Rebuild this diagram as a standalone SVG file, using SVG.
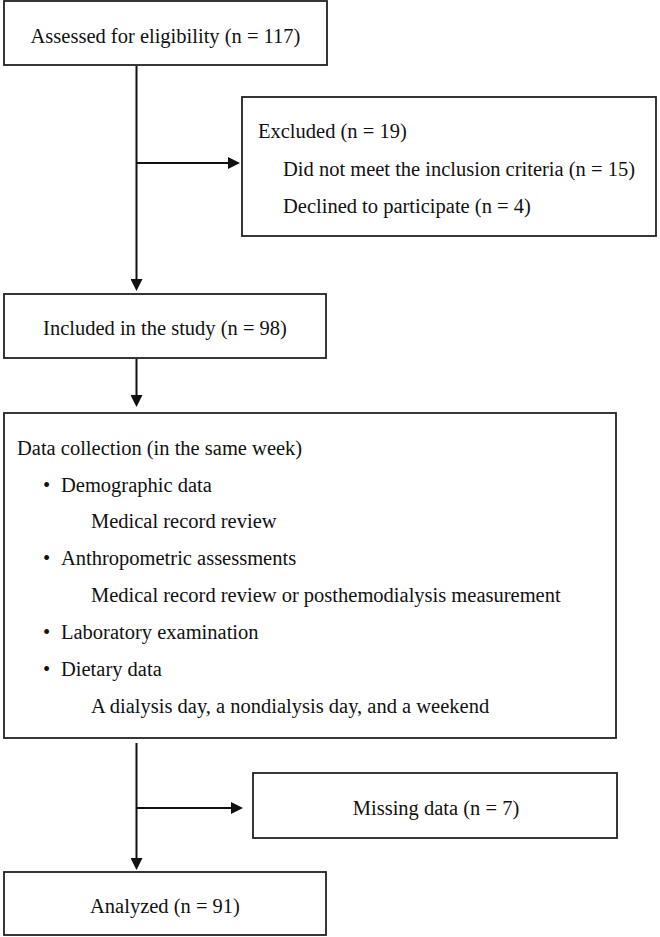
<svg xmlns="http://www.w3.org/2000/svg" width="660" height="937" viewBox="0 0 660 937">
  <style>
    .box { fill: #ffffff; stroke: #222222; stroke-width: 1.8; }
    .t { font-family: "Liberation Serif", "Times New Roman", serif; font-size: 20.5px; fill: #111111; }
    .c { text-anchor: middle; }
    .conn { fill: none; stroke: #111111; stroke-width: 2; }
  </style>
  <defs>
    <marker id="arrow" viewBox="0 0 12 12" refX="0" refY="6" markerWidth="12" markerHeight="12" markerUnits="userSpaceOnUse" orient="auto">
      <path d="M0,0 L12,6 L0,12 Z" fill="#111111"/>
    </marker>
  </defs>
  <rect width="660" height="937" fill="#ffffff"/>

  <g id="connectors">
    <line class="conn" x1="136.5" y1="66" x2="136.5" y2="279" marker-end="url(#arrow)"/>
    <line class="conn" x1="136.5" y1="163" x2="228" y2="163" marker-end="url(#arrow)"/>
    <line class="conn" x1="136.5" y1="359" x2="136.5" y2="395" marker-end="url(#arrow)"/>
    <line class="conn" x1="136.5" y1="743" x2="136.5" y2="858" marker-end="url(#arrow)"/>
    <line class="conn" x1="136.5" y1="808" x2="231" y2="808" marker-end="url(#arrow)"/>
  </g>

  <g id="assessed">
    <rect class="box" x="4" y="1" width="323" height="64"/>
    <text class="t c" x="165.5" y="43">Assessed for eligibility (n = 117)</text>
  </g>

  <g id="excluded">
    <rect class="box" x="242" y="97" width="414" height="139"/>
    <text class="t" x="258" y="138">Excluded (n = 19)</text>
    <text class="t" x="283" y="176">Did not meet the inclusion criteria (n = 15)</text>
    <text class="t" x="283" y="213">Declined to participate (n = 4)</text>
  </g>

  <g id="included">
    <rect class="box" x="4" y="294" width="322" height="64"/>
    <text class="t c" x="165" y="335">Included in the study (n = 98)</text>
  </g>

  <g id="data-collection">
    <rect class="box" x="4" y="413" width="612" height="325"/>
    <text class="t" x="17" y="455">Data collection (in the same week)</text>
    <text class="t" x="43" y="492">•</text>
    <text class="t" x="61" y="492">Demographic data</text>
    <text class="t" x="91" y="528">Medical record review</text>
    <text class="t" x="43" y="565">•</text>
    <text class="t" x="61" y="565">Anthropometric assessments</text>
    <text class="t" x="91" y="602">Medical record review or posthemodialysis measurement</text>
    <text class="t" x="43" y="639">•</text>
    <text class="t" x="61" y="639">Laboratory examination</text>
    <text class="t" x="43" y="676">•</text>
    <text class="t" x="61" y="676">Dietary data</text>
    <text class="t" x="91" y="713">A dialysis day, a nondialysis day, and a weekend</text>
  </g>

  <g id="missing">
    <rect class="box" x="253" y="773" width="364" height="65"/>
    <text class="t c" x="436" y="815">Missing data (n = 7)</text>
  </g>

  <g id="analyzed">
    <rect class="box" x="4" y="872" width="322" height="63"/>
    <text class="t c" x="165" y="913">Analyzed (n = 91)</text>
  </g>
</svg>
